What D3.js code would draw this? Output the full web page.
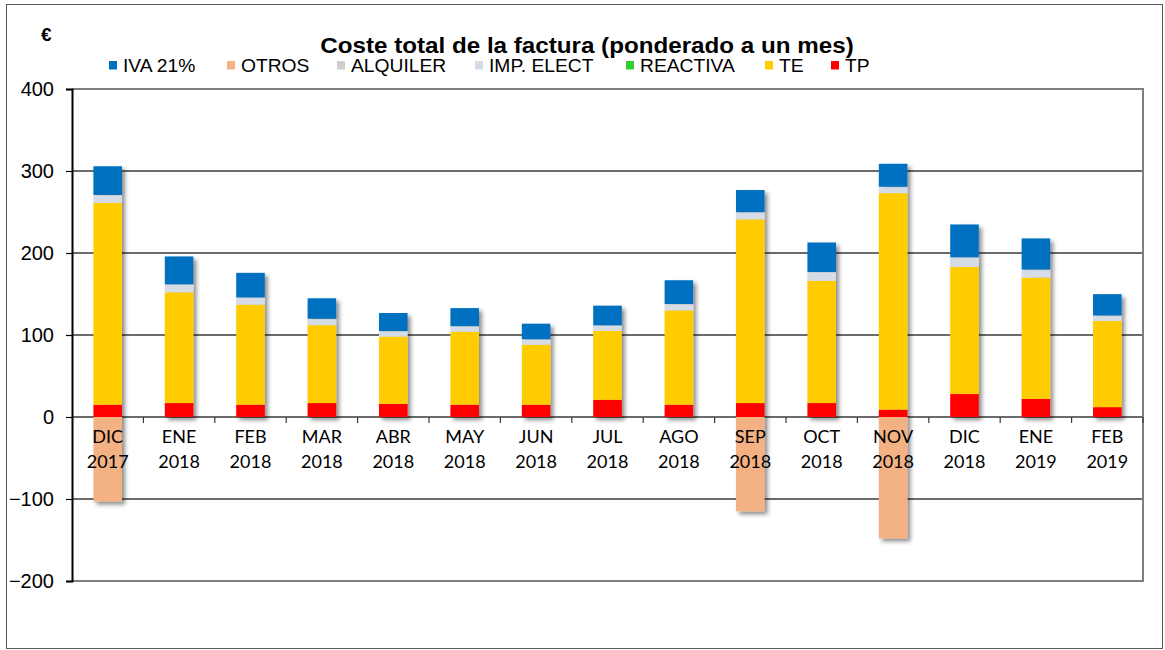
<!DOCTYPE html>
<html>
<head>
<meta charset="utf-8">
<script src="https://cdn.jsdelivr.net/npm/d3@7"></script>
<style>
  body { margin: 0; background: #fff; }
</style>
</head>
<body>
<script>
const months = ["DIC 2017", "ENE 2018", "FEB 2018", "MAR 2018", "ABR 2018", "MAY 2018", "JUN 2018",
  "JUL 2018", "AGO 2018", "SEP 2018", "OCT 2018", "NOV 2018", "DIC 2018", "ENE 2019", "FEB 2019"];

// stacked from the bottom
const tp       = [15, 17, 15, 17, 16, 15, 15, 21, 15, 17, 17, 9, 28, 22, 12];
const te       = [246, 135, 122, 95, 82, 89, 73, 84, 115, 224, 149, 264, 155, 148, 105];
const reactiva = [0, 0, 0, 0, 0, 0, 0, 0, 0, 0, 0, 0, 0, 0, 0];
const impElect = [9, 9, 8, 7, 6, 6, 6, 6, 7, 8, 10, 7, 11, 9, 6];
const alquiler = [0.8, 0.8, 0.8, 0.8, 0.8, 0.8, 0.8, 0.8, 0.8, 0.8, 0.8, 0.8, 0.8, 0.8, 0.8];
const iva      = [35, 34, 30, 25, 22, 22, 19, 24, 29, 27, 36, 28, 40, 38, 26];
const otros    = [-103, 0, 0, 0, 0, 0, 0, 0, 0, -115, 0, -148, 0, 0, 0];

const yTicks = [-200, -100, 0, 100, 200, 300, 400];

const series = [
  { name: "TP", values: tp, color: "#ff0000" },
  { name: "TE", values: te, color: "#ffcc00" },
  { name: "REACTIVA", values: reactiva, color: "#33cc33" },
  { name: "IMP. ELECT", values: impElect, color: "#d6dce5" },
  { name: "ALQUILER", values: alquiler, color: "#d0cece" },
  { name: "IVA 21%", values: iva, color: "#0070c0" }
];
const otrosColor = "#f4b183";

const legendItems = [
  { name: "IVA 21%", color: "#0070c0", x: 109 },
  { name: "OTROS", color: otrosColor, x: 227 },
  { name: "ALQUILER", color: "#d0cece", x: 337 },
  { name: "IMP. ELECT", color: "#d6dce5", x: 475 },
  { name: "REACTIVA", color: "#33cc33", x: 626 },
  { name: "TE", color: "#ffcc00", x: 765 },
  { name: "TP", color: "#ff0000", x: 831 }
];

const W = 1165, H = 650;
const plotLeft = 72, plotRight = 1143, plotTop = 89, plotBottom = 581;

const svg = d3.select("body").append("svg")
  .attr("width", W)
  .attr("height", H);

const defs = svg.append("defs");
const filt = defs.append("filter")
  .attr("id", "shadow")
  .attr("x", "-30%").attr("y", "-10%")
  .attr("width", "170%").attr("height", "130%");
filt.append("feDropShadow")
  .attr("dx", 3).attr("dy", 3)
  .attr("stdDeviation", 2.2)
  .attr("flood-color", "#000")
  .attr("flood-opacity", 0.45);

// outer frame
svg.append("rect")
  .attr("x", 6.5).attr("y", 4.5)
  .attr("width", 1156).attr("height", 644)
  .attr("fill", "none")
  .attr("stroke", "#595959")
  .attr("stroke-width", 1);

const x = d3.scaleBand().domain(months).range([plotLeft, plotRight]).paddingInner(0.6).paddingOuter(0.3);
const y = d3.scaleLinear().domain([-200, 400]).range([plotBottom, plotTop]);

// gridlines
svg.append("g")
  .selectAll("line")
  .data(yTicks.filter(d => d !== 400 && d !== -200))
  .join("line")
  .attr("x1", plotLeft).attr("x2", plotRight)
  .attr("y1", d => y(d)).attr("y2", d => y(d))
  .attr("stroke", "#3a3a3a")
  .attr("stroke-width", 1.4);

// plot border (top, right, bottom)
svg.append("path")
  .attr("d", `M${plotLeft},${y(400)} H${plotRight} V${y(-200)} H${plotLeft}`)
  .attr("fill", "none")
  .attr("stroke", "#7f7f7f")
  .attr("stroke-width", 2);

// stacked bars
const stackData = months.map((m, i) => {
  const row = { month: m };
  series.forEach(s => { row[s.name] = s.values[i]; });
  return row;
});
const stack = d3.stack().keys(series.map(s => s.name));
const layers = stack(stackData);

const bars = svg.append("g").attr("filter", "url(#shadow)");

bars.append("g")
  .selectAll("rect")
  .data(months)
  .join("rect")
  .attr("x", d => x(d))
  .attr("width", x.bandwidth())
  .attr("y", y(0))
  .attr("height", (d, i) => y(otros[i]) - y(0))
  .attr("fill", otrosColor);

layers.forEach((layer, k) => {
  bars.append("g")
    .selectAll("rect")
    .data(layer)
    .join("rect")
    .attr("x", d => x(d.data.month))
    .attr("width", x.bandwidth())
    .attr("y", d => y(d[1]))
    .attr("height", d => y(d[0]) - y(d[1]))
    .attr("fill", series[k].color);
});

// y axis
const yAxis = svg.append("g")
  .attr("transform", `translate(${plotLeft},0)`)
  .call(d3.axisLeft(y).tickValues(yTicks).tickSize(6).tickPadding(12).tickFormat(d3.format("d")));
yAxis.select(".domain").attr("stroke", "#000").attr("stroke-width", 2);
yAxis.selectAll(".tick line").attr("stroke", "#000").attr("stroke-width", 1.2);
yAxis.selectAll(".tick text")
  .attr("font-family", "Liberation Sans, Arial, sans-serif")
  .attr("font-size", 20)
  .attr("fill", "#000");

// x axis ticks at zero line
const boundaries = d3.range(1, months.length + 1).map(i => plotLeft + i * (plotRight - plotLeft) / months.length);
svg.append("g")
  .selectAll("line")
  .data(boundaries)
  .join("line")
  .attr("x1", d => d).attr("x2", d => d)
  .attr("y1", y(0)).attr("y2", y(0) + 6)
  .attr("stroke", "#3a3a3a")
  .attr("stroke-width", 1.2);

// x labels
const xl = svg.append("g")
  .selectAll("text")
  .data(months)
  .join("text")
  .attr("x", d => x(d) + x.bandwidth() / 2)
  .attr("y", 443)
  .attr("text-anchor", "middle")
  .attr("font-family", "Lato, 'Open Sans', sans-serif")
  .attr("font-size", 18)
  .attr("fill", "#000");
xl.append("tspan").text(d => d.split(" ")[0]);
xl.append("tspan")
  .attr("x", d => x(d) + x.bandwidth() / 2)
  .attr("dy", 25)
  .text(d => d.split(" ")[1]);

// title
svg.append("text")
  .attr("transform", "translate(587,53) scale(1.1,1)")
  .attr("text-anchor", "middle")
  .attr("font-family", "Liberation Sans, Arial, sans-serif")
  .attr("font-weight", "bold")
  .attr("font-size", 22)
  .text("Coste total de la factura (ponderado a un mes)");

svg.append("text")
  .attr("x", 41).attr("y", 41)
  .attr("font-family", "Liberation Sans, Arial, sans-serif")
  .attr("font-weight", "bold")
  .attr("font-size", 19)
  .text("€");

// legend
const lg = svg.append("g")
  .selectAll("g")
  .data(legendItems)
  .join("g")
  .attr("transform", d => `translate(${d.x},61)`);
lg.append("rect")
  .attr("width", 8).attr("height", 8.5)
  .attr("fill", d => d.color);
lg.append("text")
  .attr("transform", "translate(14,11) scale(1.07,1)")
  .attr("font-family", "Liberation Sans, Arial, sans-serif")
  .attr("font-size", 18)
  .text(d => d.name);
</script>
</body>
</html>
